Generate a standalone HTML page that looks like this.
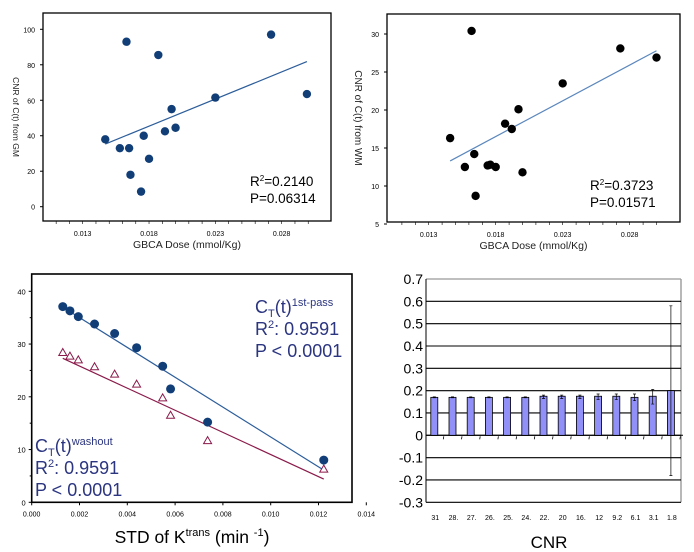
<!DOCTYPE html>
<html><head><meta charset="utf-8"><style>
body{margin:0;background:#fff;}
svg{display:block;font-family:"Liberation Sans",Arial,sans-serif;}
</style></head><body>
<svg id="s" width="694" height="552" viewBox="0 0 694 552" xmlns="http://www.w3.org/2000/svg">
<g id="p1"></g>
<g id="p2"></g>
<g id="p3"></g>
<g id="p4"></g>
</svg>
<script>
// Panel 1 data
const gmDose=[0.0147,0.0163,0.0158,0.0165,0.0166,0.0174,0.0176,0.0180,0.0187,0.0192,0.0197,0.0200,0.0230,0.0272,0.0299];
const gmCNR=[38,93,33,33,18,8.5,40,27,85.5,42.5,55,44.5,61.5,97,63.5];
const gmFitX=[0.0147,0.0299];
const gmFitY=[35.3,81.8];
const gmYTicks=[0,20,40,60,80,100];
const doseTicks=[0.013,0.018,0.023,0.028];
// Panel 2 data
const wmDose=[0.0146,0.0162,0.0157,0.0164,0.0165,0.0174,0.0176,0.0180,0.0187,0.0192,0.0197,0.0200,0.0230,0.0273,0.0300];
const wmCNR=[16.3,30.4,12.5,14.2,8.7,12.7,12.8,12.5,18.2,17.5,20.1,11.8,23.5,28.1,26.9];
const wmFitX=[0.0146,0.0300];
const wmFitY=[13.3,27.8];
const wmYTicks=[5,10,15,20,25,30];
// Panel 3 data
const stdK=[0.0013,0.0016,0.00195,0.00263,0.00347,0.00439,0.00548,0.00581,0.00736,0.01222];
const firstPass=[37.1,36.3,35.2,33.8,32.0,29.3,25.8,21.5,15.2,8.0];
const washout=[28.4,27.7,27.0,25.7,24.3,22.4,19.8,16.5,11.7,6.3];
const fpFitY=[37.0,6.1];
const woFitY=[27.3,4.4];
const stdXTicks=[0,0.002,0.004,0.006,0.008,0.010,0.012,0.014];
const stdYTicks=[0,10,20,30,40];
// Panel 4 data
const cnrCats=["31","28.","27.","26.","25.","24.","22.","20","16.","12","9.2","6.1","3.1","1.8"];
const barVals=[0.17,0.17,0.17,0.17,0.17,0.17,0.175,0.175,0.175,0.175,0.175,0.17,0.175,0.2];
const errLo=[0.168,0.168,0.168,0.168,0.168,0.168,0.165,0.165,0.165,0.16,0.16,0.155,0.14,-0.18];
const errHi=[0.172,0.172,0.172,0.172,0.172,0.172,0.18,0.18,0.18,0.185,0.185,0.185,0.205,0.58];
const barYTicks=[0.7,0.6,0.5,0.4,0.3,0.2,0.1,0,-0.1,-0.2,-0.3];

const NS="http://www.w3.org/2000/svg";
function mk(p,tag,a,txt){const e=document.createElementNS(NS,tag);for(const k in a)e.setAttribute(k,a[k]);if(txt!==undefined)e.textContent=txt;p.appendChild(e);return e;}
function lin(d0,d1,r0,r1){return v=>r0+(v-d0)/(d1-d0)*(r1-r0);}

function scatterPanel(g,o){
  const sx=lin(0.013,0.028,o.x013,o.x028), sy=lin(o.y0v,o.y1v,o.y0p,o.y1p);
  let e=mk(g,'rect',{x:o.L,y:o.T,width:o.R-o.L,height:o.B-o.T,fill:'none',stroke:'#000','stroke-width':1.3});
  
  
  o.yt.forEach(v=>{const y=sy(v);
    mk(g,'line',{x1:o.L-3,x2:o.L,y1:y,y2:y,stroke:'#000'});
    e=mk(g,'text',{x:o.L-8,y:y+3,'font-size':7,'text-anchor':'end'},String(v));
    
    
  });
  for(let v=0.011;v<=0.0301;v+=0.001){const x=sx(v);if(x>o.L&&x<o.R)mk(g,'line',{x1:x,x2:x,y1:o.B,y2:o.B+3,stroke:'#000','stroke-width':0.6});}
  doseTicks.forEach(v=>{
    e=mk(g,'text',{x:sx(v),y:o.B+15,'font-size':7,'text-anchor':'middle'},v.toFixed(3));
    
    
  });
  e=mk(g,'line',{x1:sx(o.fx[0]),y1:sy(o.fy[0]),x2:sx(o.fx[1]),y2:sy(o.fy[1]),stroke:o.lc,'stroke-width':1.2});
  
  
  o.xs.forEach((v,i)=>{
    e=mk(g,'circle',{cx:sx(v),cy:sy(o.ys[i]),r:4.2,fill:o.pc});
    
    
  });
  e=mk(g,'text',{x:(o.L+o.R)/2,y:o.B+27,'font-size':10.5,'text-anchor':'middle',fill:'#222'},'GBCA Dose (mmol/Kg)');
  
  
  const cy=(o.T+o.B)/2;
  e=mk(g,'text',{x:o.ytx,y:cy,'font-size':o.yfs,'text-anchor':'middle',transform:`rotate(90 ${o.ytx} ${cy})`,fill:'#222'},o.ytitle);
  
  
  e=mk(g,'text',{x:o.ax,y:o.ay,'font-size':13.5});
  e.innerHTML='R<tspan font-size="8" dy="-5">2</tspan><tspan dy="5">='+o.r2+'</tspan>';
  
  
  e=mk(g,'text',{x:o.ax,y:o.ay+17,'font-size':13.5},'P='+o.p);
  
  
}
scatterPanel(document.getElementById('p1'),{L:43,T:13,R:331,B:221,x013:82.7,x028:281.7,y0v:0,y1v:100,y0p:206.7,y1p:29.3,yt:gmYTicks,xs:gmDose,ys:gmCNR,fx:gmFitX,fy:gmFitY,lc:'#2c5d9a',pc:'#123e78',ytitle:'CNR of C(t) from GM',ytx:13,yfs:8.5,ax:250,ay:186,r2:'0.2140',p:'0.06314'});
scatterPanel(document.getElementById('p2'),{L:387,T:14,R:680,B:222,x013:428.7,x028:629.7,y0v:5,y1v:30,y0p:224,y1p:34,yt:wmYTicks,xs:wmDose,ys:wmCNR,fx:wmFitX,fy:wmFitY,lc:'#5b87bd',pc:'#000',ytitle:'CNR of C(t) from  WM',ytx:355,yfs:10,ax:590,ay:190,r2:'0.3723',p:'0.01571'});

// Panel 3
(function(){
  const g=document.getElementById('p3');
  const L=31.7,T=274,R=352,B=502.3;
  const sx=lin(0,0.002,31.7,79.5), sy=lin(0,40,502.3,291.3);
  let e=mk(g,'rect',{x:L,y:T,width:R-L,height:B-T,fill:'none',stroke:'#000','stroke-width':1.6});
  
  
  stdYTicks.forEach(v=>{const y=sy(v);mk(g,'line',{x1:L-3,x2:L,y1:y,y2:y,stroke:'#000'});
    e=mk(g,'text',{x:L-6,y:y+3,'font-size':7.5,'text-anchor':'end'},String(v));
    
    });
  for(let v=5;v<40;v+=10){const y=sy(v);mk(g,'line',{x1:L-2,x2:L,y1:y,y2:y,stroke:'#000'});}
  stdXTicks.forEach(v=>{const x=sx(v);mk(g,'line',{x1:x,x2:x,y1:B,y2:B+3,stroke:'#000'});
    e=mk(g,'text',{x:x,y:B+14,'font-size':7,'text-anchor':'middle'},v.toFixed(3));
    
    });
  const x0=sx(stdK[0]),x1=sx(stdK[stdK.length-1]);
  e=mk(g,'line',{x1:x0,y1:sy(fpFitY[0]),x2:x1,y2:sy(fpFitY[1]),stroke:'#2c5d9a','stroke-width':1.2});
  
  
  e=mk(g,'line',{x1:x0,y1:sy(woFitY[0]),x2:x1,y2:sy(woFitY[1]),stroke:'#8a1a4a','stroke-width':1.2});
  
  
  stdK.forEach((v,i)=>{
    e=mk(g,'circle',{cx:sx(v),cy:sy(firstPass[i]),r:4.5,fill:'#123e78'});
    
    
    const x=sx(v),y=sy(washout[i]);
    e=mk(g,'polygon',{points:`${x},${y-4} ${x-4},${y+3} ${x+4},${y+3}`,fill:'#fff',stroke:'#8a1a4a','stroke-width':1});
    
    
  });
  function ann(x,y,sup,name){
    e=mk(g,'text',{x:x,y:y,'font-size':18,fill:'#2b3580'});
    e.innerHTML='C<tspan font-size="11" dy="4">T</tspan><tspan dy="-4">(t)</tspan><tspan font-size="11" dy="-7">'+sup+'</tspan>';
    
    
    e=mk(g,'text',{x:x,y:y+22,'font-size':18,fill:'#2b3580'});
    e.innerHTML='R<tspan font-size="11" dy="-7">2</tspan><tspan dy="7">: 0.9591</tspan>';
    
    
    e=mk(g,'text',{x:x,y:y+44,'font-size':18,fill:'#2b3580'},'P < 0.0001');
    
    
  }
  ann(255,313,'1st-pass','first-pass');
  ann(35,452,'washout','washout');
  e=mk(g,'text',{x:192,y:543,'font-size':17.5,'text-anchor':'middle'});
  e.innerHTML='STD of K<tspan font-size="11" dy="-7">trans</tspan><tspan dy="7"> (min </tspan><tspan font-size="11" dy="-7">-1</tspan><tspan dy="7">)</tspan>';
  
  
})();

// Panel 4
(function(){
  const g=document.getElementById('p4');
  const L=426,T=279,R=681,B=502.3;
  const sy=lin(0.7,-0.3,T,B);
  const bx=i=>434.3+i*18.2;
  let e=mk(g,'line',{x1:R,x2:R,y1:T,y2:B,stroke:'#888','stroke-width':1.2});
  
  
  mk(g,'line',{x1:L,x2:R,y1:T,y2:T,stroke:'#999','stroke-width':1.2});
  barYTicks.forEach(v=>{const y=sy(v);
    if(v<0.7){e=mk(g,'line',{x1:L,x2:R,y1:y,y2:y,stroke:'#000','stroke-width':1.1});
      
      }
    e=mk(g,'text',{x:L-3,y:y+5,'font-size':14,'text-anchor':'end'},v===0?'0':v.toFixed(1));
    
    
  });
  mk(g,'line',{x1:L,x2:L,y1:T,y2:B,stroke:'#000','stroke-width':1});
  mk(g,'line',{x1:L,x2:R+2,y1:sy(0),y2:sy(0),stroke:'#000','stroke-width':1});
  barVals.forEach((v,i)=>{const x=bx(i);
    e=mk(g,'rect',{x:x-3.5,y:sy(v),width:7,height:sy(0)-sy(v),fill:'#9090f8',stroke:'#000','stroke-width':0.8});
    
    
    e=mk(g,'path',{d:`M${x} ${sy(errLo[i])}V${sy(errHi[i])}M${x-1.5} ${sy(errLo[i])}h3M${x-1.5} ${sy(errHi[i])}h3`,stroke:'#000','stroke-width':0.7,fill:'none'});
    
    
    mk(g,'line',{x1:x+9.5,x2:x+9,y1:sy(0)+1,y2:sy(0)+4,stroke:'#000','stroke-width':0.8});
    e=mk(g,'text',{x:x+1,y:520,'font-size':7,'text-anchor':'middle'},cnrCats[i]);
    
    
  });
  e=mk(g,'text',{x:549,y:548,'font-size':17,'text-anchor':'middle'},'CNR');
  
  
})();
</script>
</body></html>
